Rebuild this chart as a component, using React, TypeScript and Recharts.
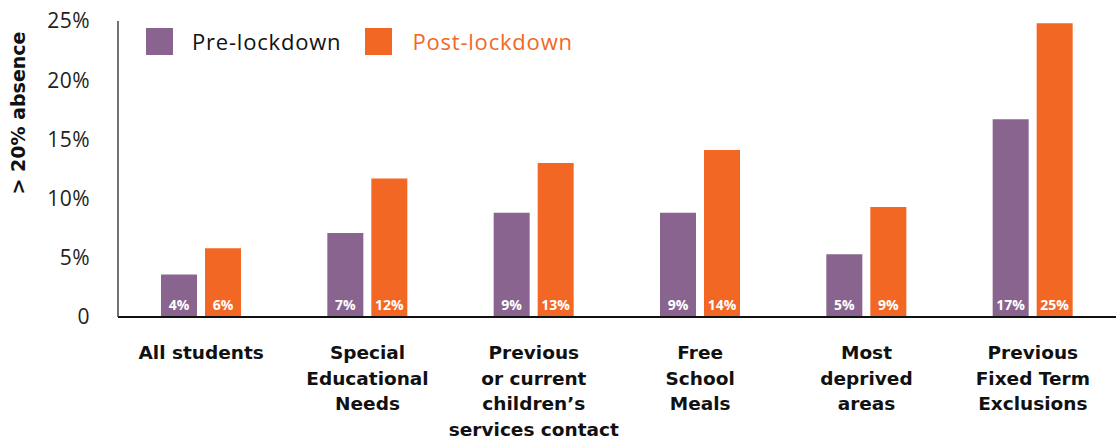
import React from 'react';
import { BarChart, Bar, XAxis, YAxis, Legend, LabelList, Label } from 'recharts';

const categories = [
  'All students',
  'Special\nEducational\nNeeds',
  'Previous\nor current\nchildren’s\nservices contact',
  'Free\nSchool\nMeals',
  'Most\ndeprived\nareas',
  'Previous\nFixed Term\nExclusions',
];
const preLockdown = [3.6, 7.1, 8.8, 8.8, 5.3, 16.7];
const postLockdown = [5.8, 11.7, 13.0, 14.1, 9.3, 24.8];
const preLabels = ['4%', '7%', '9%', '9%', '5%', '17%'];
const postLabels = ['6%', '12%', '13%', '14%', '9%', '25%'];
const seriesNames = ['Pre-lockdown', 'Post-lockdown'];
const yTicks = [0, 5, 10, 15, 20, 25];
const yTitle = '> 20% absence';

const PURPLE = '#88648F';
const ORANGE = '#F26724';
const FONT = '"Open Sans", sans-serif';
const BOLD_FONT = '"DejaVu Sans", sans-serif';

const data = categories.map((c, i) => ({
  category: c,
  pre: preLockdown[i],
  post: postLockdown[i],
  preLabel: preLabels[i],
  postLabel: postLabels[i],
}));

const CategoryTick = (props: any) => {
  const { x, y, payload } = props;
  const lines = String(payload.value).split('\n');
  return (
    <text x={x} y={y} textAnchor="middle" fontFamily={BOLD_FONT} fontWeight={700} fontSize={18.5} fill="#111">
      {lines.map((l, i) => (
        <tspan key={i} x={x} dy={i === 0 ? 42 : 25.5}>{l}</tspan>
      ))}
    </text>
  );
};

const valueLabel = (props: any) => {
  const { x, y, width, height, value } = props;
  return (
    <text x={x + width / 2} y={y + height - 7} textAnchor="middle" fontFamily={FONT} fontWeight={700} fontSize={14} fill="#fff">
      {value}
    </text>
  );
};

const LegendContent = () => (
  <div style={{ display: 'flex', alignItems: 'center', fontFamily: FONT, fontSize: 22, lineHeight: '27px' }}>
    <div style={{ width: 27, height: 27, background: PURPLE }} />
    <span style={{ marginLeft: 19, color: '#111', letterSpacing: 0.8 }}>{seriesNames[0]}</span>
    <div style={{ width: 27, height: 27, background: ORANGE, marginLeft: 24 }} />
    <span style={{ marginLeft: 20, color: ORANGE, letterSpacing: 0.8 }}>{seriesNames[1]}</span>
  </div>
);

export default function App() {
  return (
    <div style={{ position: 'absolute', left: 0, top: 0 }}>
      <BarChart
        width={1116}
        height={442}
        data={data}
        margin={{ top: 21, right: 0, left: 0, bottom: 0 }}
        barSize={36}
        barGap={8}
      >
        <XAxis
          dataKey="category"
          height={125}
          tick={<CategoryTick />}
          tickLine={false}
          tickSize={0}
          tickMargin={0}
          interval={0}
          axisLine={{ stroke: '#111', strokeWidth: 2 }}
        />
        <YAxis
          width={118}
          domain={[0, 25]}
          ticks={yTicks}
          tickFormatter={(v: number) => (v === 0 ? '0' : `${v}%`)}
          tickLine={false}
          tickSize={0}
          tickMargin={28}
          axisLine={{ stroke: '#444', strokeWidth: 1.5 }}
          tick={{ fontFamily: FONT, fontSize: 21, fill: '#222', letterSpacing: 0.5 }}
        >
          <Label
            content={() => (
              <text
                x={18}
                y={113}
                transform="rotate(-90, 18, 113)"
                textAnchor="middle"
                dominantBaseline="central"
                fontFamily={BOLD_FONT}
                fontWeight={700}
                fontSize={19}
                fill="#111"
              >
                {yTitle}
              </text>
            )}
          />
        </YAxis>
        <Legend
          layout="horizontal"
          verticalAlign="middle"
          align="center"
          content={<LegendContent />}
          wrapperStyle={{ top: 28, left: 146, width: 'auto', height: 27 }}
        />
        <Bar dataKey="pre" name={seriesNames[0]} fill={PURPLE} isAnimationActive={false}>
          <LabelList dataKey="preLabel" content={valueLabel} />
        </Bar>
        <Bar dataKey="post" name={seriesNames[1]} fill={ORANGE} isAnimationActive={false}>
          <LabelList dataKey="postLabel" content={valueLabel} />
        </Bar>
      </BarChart>
    </div>
  );
}
